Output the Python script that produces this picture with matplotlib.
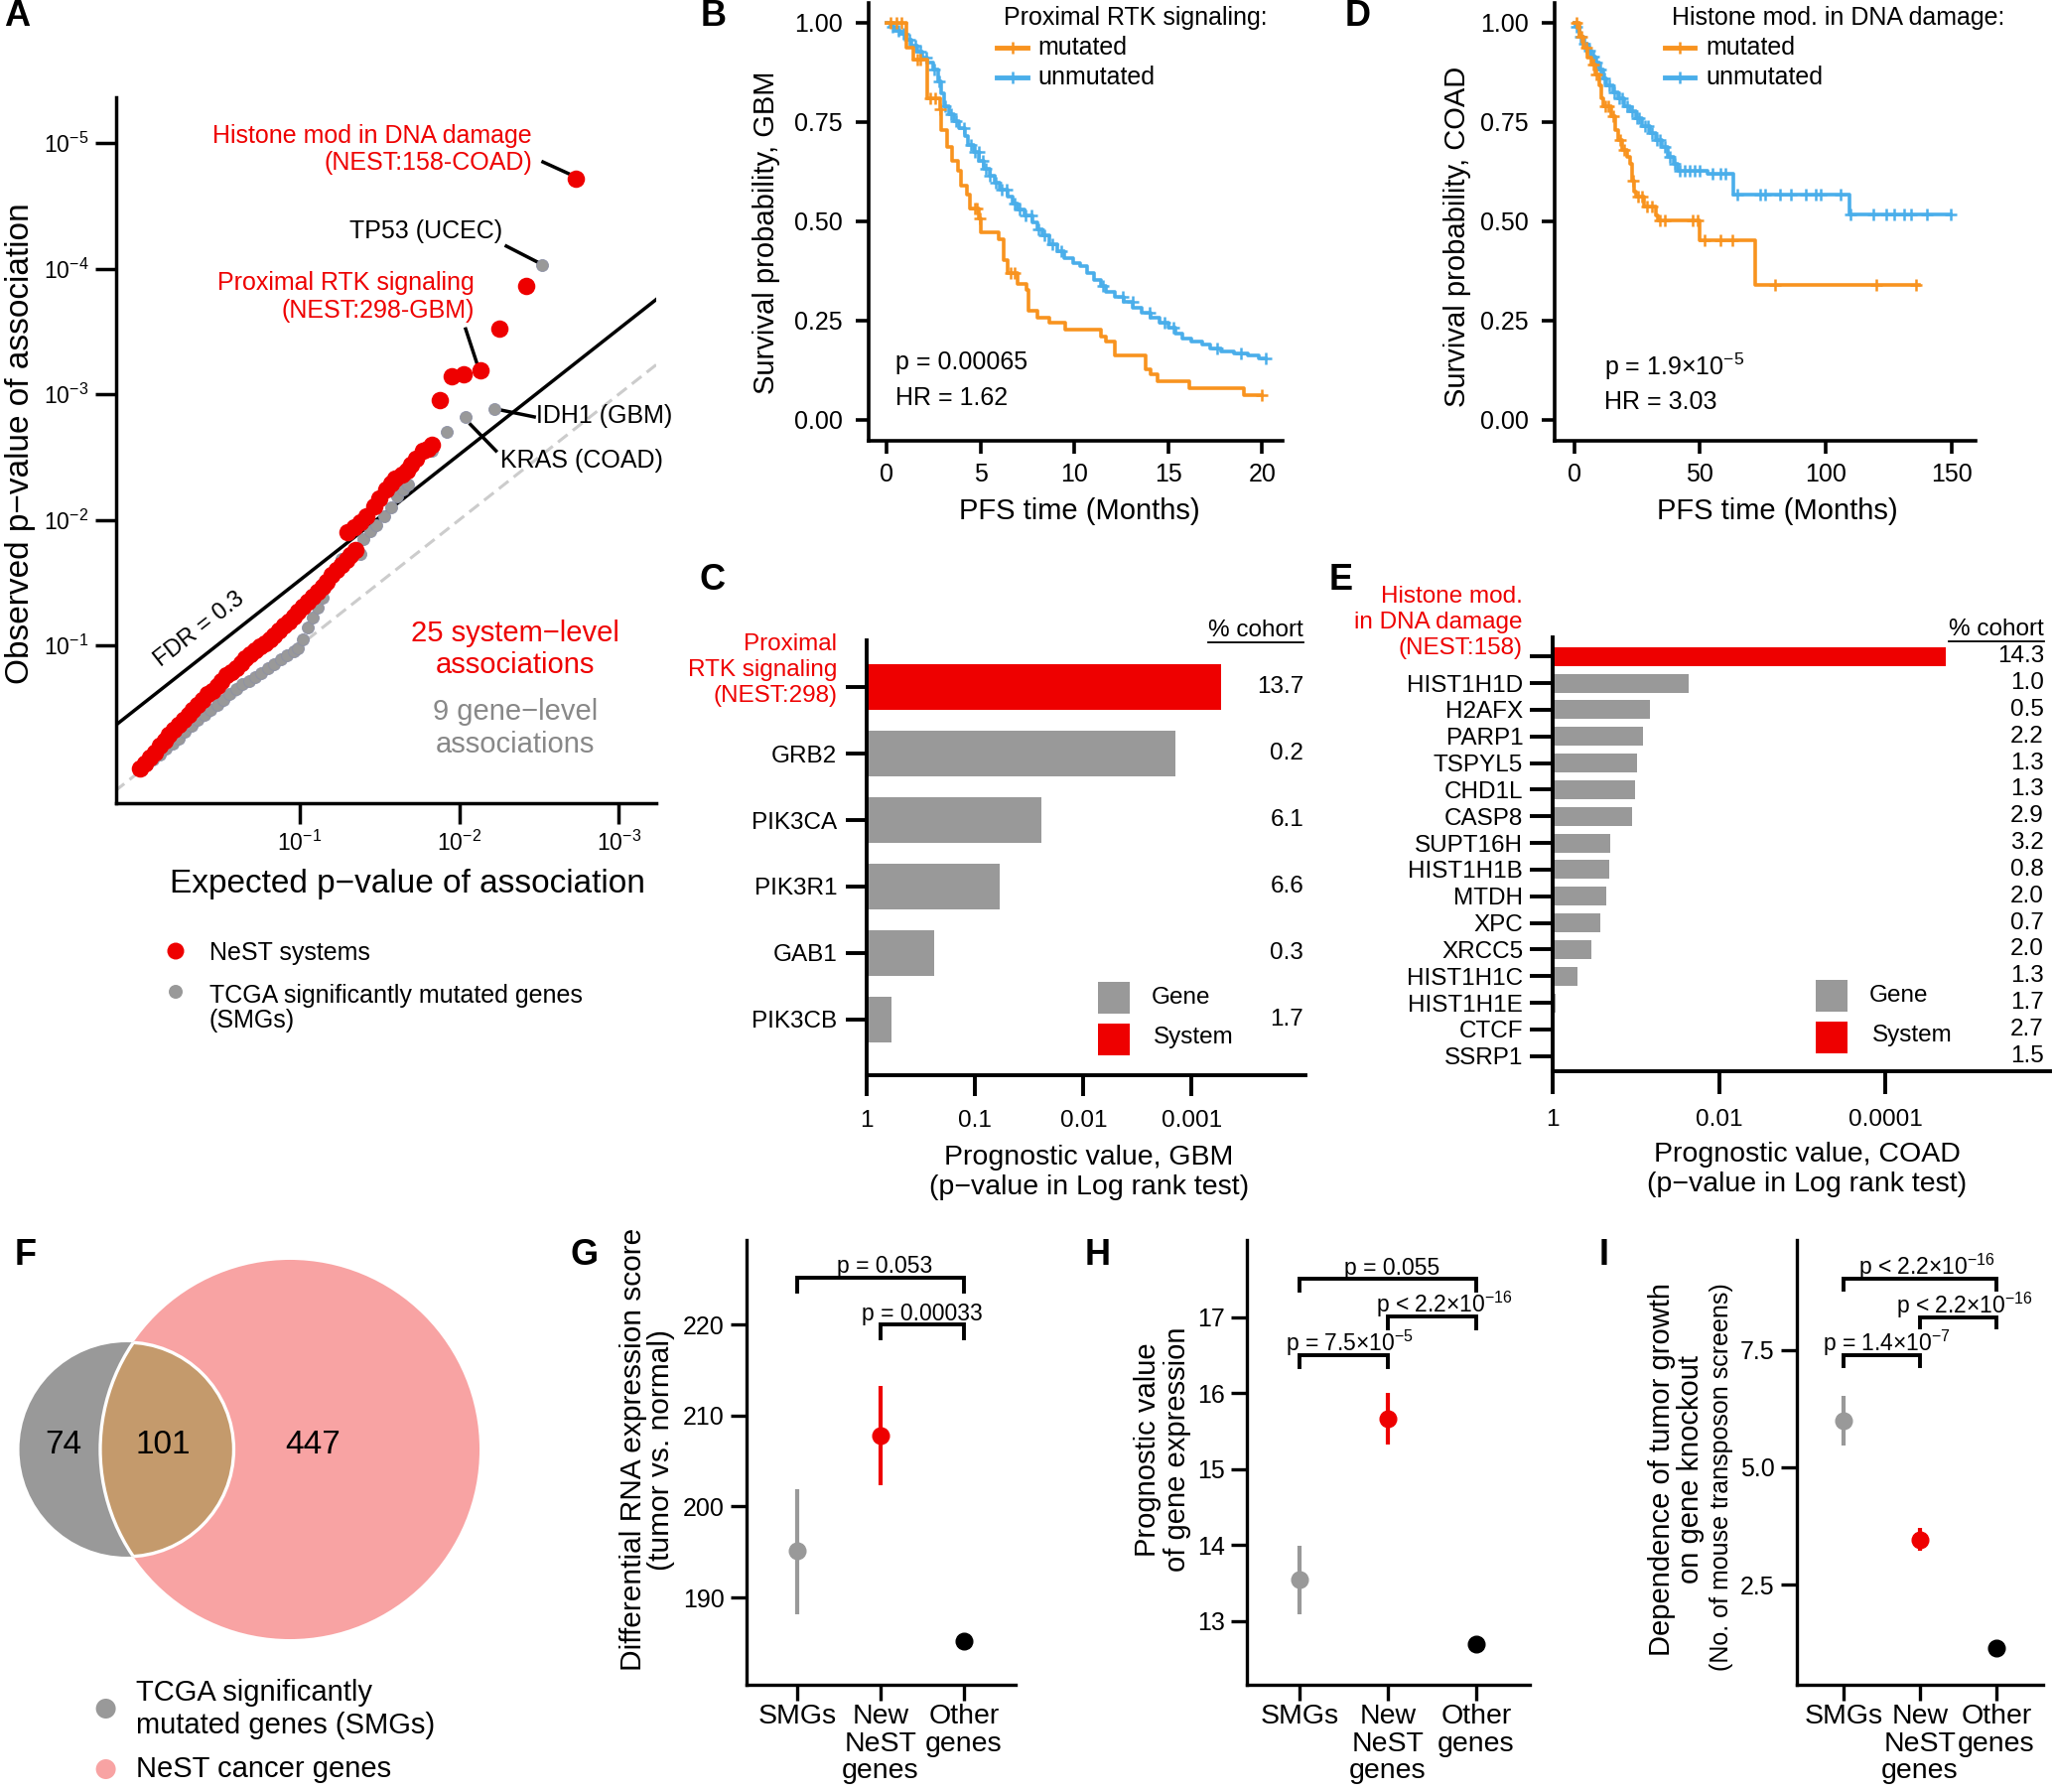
import numpy as np
import matplotlib
matplotlib.use('Agg')
import matplotlib.pyplot as plt
from matplotlib.patches import Circle, Rectangle
from matplotlib.ticker import NullLocator

plt.rcParams['font.family'] = ['Liberation Sans', 'DejaVu Sans']
plt.rcParams['mathtext.fontset'] = 'custom'
plt.rcParams['mathtext.rm'] = 'Liberation Sans'
plt.rcParams['mathtext.it'] = 'Liberation Sans:italic'
plt.rcParams['mathtext.bf'] = 'Liberation Sans:bold'

# ======================= DATA =======================
# Panel A: QQ plot (-log10 expected, -log10 observed)
qq_sys_exp = [0.00, 0.03, 0.06, 0.09, 0.12, 0.15, 0.18, 0.21, 0.24, 0.27, 0.30, 0.33, 0.36, 0.39,
              0.42, 0.45, 0.48, 0.51, 0.54, 0.57, 0.60, 0.63, 0.66, 0.69, 0.72, 0.75, 0.78, 0.81,
              0.84, 0.87, 0.90, 0.93, 0.96, 0.99, 1.02, 1.05, 1.08, 1.11, 1.14, 1.17, 1.20, 1.23,
              1.26, 1.29, 1.32, 1.35,
              1.30, 1.34, 1.38, 1.42, 1.465, 1.50, 1.54, 1.57, 1.60, 1.64, 1.67, 1.70, 1.73, 1.77,
              1.80, 1.83, 1.88, 1.95, 2.03, 2.13, 2.25, 2.42, 2.73]
qq_sys_obs = [0.02, 0.06, 0.11, 0.15, 0.20, 0.24, 0.29, 0.33, 0.37, 0.41, 0.45, 0.49, 0.53, 0.57,
              0.61, 0.64, 0.68, 0.72, 0.76, 0.79, 0.82, 0.86, 0.90, 0.93, 0.96, 0.99, 1.02, 1.05,
              1.08, 1.12, 1.16, 1.19, 1.23, 1.27, 1.31, 1.35, 1.39, 1.43, 1.47, 1.51, 1.56, 1.60,
              1.64, 1.68, 1.72, 1.76,
              1.90, 1.94, 1.98, 2.03, 2.11, 2.17, 2.24, 2.29, 2.33, 2.36, 2.39, 2.44, 2.49, 2.55,
              2.57, 2.60, 2.95, 3.14, 3.16, 3.19, 3.52, 3.86, 4.72]
qq_gene_exp = [0.00, 0.04, 0.08, 0.12, 0.16, 0.20, 0.24, 0.28, 0.32, 0.36, 0.40, 0.44, 0.48, 0.52,
               0.56, 0.60, 0.64, 0.68, 0.72, 0.76, 0.80, 0.84, 0.88, 0.92, 0.96, 0.99, 1.02, 1.05,
               1.08, 1.11, 1.14, 1.17, 1.20, 1.23, 1.26, 1.30, 1.38, 1.40, 1.44, 1.48, 1.53, 1.57,
               1.61, 1.65, 1.68, 1.83, 1.92, 2.04, 2.22, 2.52]
qq_gene_obs = [0.02, 0.05, 0.09, 0.13, 0.18, 0.22, 0.26, 0.31, 0.36, 0.41, 0.45, 0.49, 0.53, 0.57,
               0.61, 0.65, 0.69, 0.72, 0.75, 0.78, 0.82, 0.85, 0.89, 0.92, 0.95, 0.98, 1.05, 1.14,
               1.22, 1.30, 1.38, 1.48, 1.55, 1.62, 1.69, 1.71, 1.73, 1.85, 1.91, 1.96, 2.03, 2.10,
               2.19, 2.24, 2.28, 2.55, 2.70, 2.82, 2.88, 4.03]
fdr_offset = 0.52

# Panel B: Kaplan-Meier GBM
gbm_mut_t = [0, 1.04, 1.42, 2.17, 2.83, 2.92, 3.21, 3.49, 3.77, 3.96, 4.25, 4.43, 4.91, 5.0, 5.94,
             6.23, 6.42, 6.98, 7.45, 7.55, 8.02, 8.68, 9.53, 11.42, 11.7, 12.17, 13.77, 14.06,
             14.43, 16.13, 19.06]
gbm_mut_s = [1.0, 0.938, 0.908, 0.809, 0.783, 0.731, 0.688, 0.653, 0.628, 0.589, 0.567, 0.533,
             0.507, 0.472, 0.455, 0.403, 0.369, 0.343, 0.326, 0.274, 0.257, 0.244, 0.227, 0.209,
             0.197, 0.162, 0.128, 0.115, 0.097, 0.080, 0.063]
gbm_mut_end = 20.0
gbm_mut_cens = [0.2, 0.5, 0.8, 1.6, 1.8, 2.3, 2.6, 2.85, 4.7, 4.8, 4.95, 6.6, 6.8, 20.0]
gbm_unm_t = [0, 0.19, 0.47, 0.75, 1.04, 1.32, 1.6, 1.89, 2.17, 2.45, 2.74, 2.92, 3.06, 3.3, 3.58,
             3.87, 4.15, 4.34, 4.62, 4.91, 5.19, 5.47, 5.75, 6.04, 6.42, 6.70, 6.98, 7.36, 7.74,
             8.02, 8.3, 8.68, 9.06, 9.43, 9.91, 10.28, 10.66, 11.04, 11.42, 11.7, 12.17, 12.64,
             13.11, 13.58, 14.06, 14.53, 15.0, 15.38, 15.75, 16.23, 16.79, 17.26, 17.83, 18.49,
             19.25, 19.81]
gbm_unm_s = [1.0, 0.99, 0.979, 0.972, 0.957, 0.942, 0.928, 0.912, 0.899, 0.882, 0.852, 0.822,
             0.791, 0.770, 0.753, 0.735, 0.714, 0.692, 0.675, 0.653, 0.632, 0.615, 0.597, 0.580,
             0.563, 0.546, 0.531, 0.516, 0.498, 0.479, 0.464, 0.442, 0.425, 0.408, 0.395, 0.386,
             0.369, 0.352, 0.336, 0.322, 0.310, 0.296, 0.283, 0.270, 0.257, 0.244, 0.233, 0.218,
             0.205, 0.198, 0.190, 0.179, 0.172, 0.166, 0.162, 0.155]
gbm_unm_end = 20.2
gbm_unm_cens = [0.3, 0.6, 0.9, 1.2, 1.5, 1.8, 2.1, 2.5, 2.8, 3.1, 3.4, 3.7, 4.1, 4.5, 4.7, 4.9,
                5.1, 5.3, 5.5, 5.8, 6.1, 6.4, 6.8, 7.1, 7.4, 7.7, 8.1, 8.4, 8.8, 9.3, 11.5, 12.6,
                13.1, 14.0, 14.8, 15.3, 17.6, 18.9, 20.2]
gbm_p_text = 'p = 0.00065'
gbm_hr_text = 'HR = 1.62'

# Panel D: Kaplan-Meier COAD
coad_mut_t = [0, 2.0, 3.6, 5.2, 6.7, 8.3, 9.9, 10.7, 11.5, 14.6, 16.2, 17.7, 19.3, 20.9, 22.4,
              23.2, 24.0, 24.8, 27.9, 32.6, 33.4, 49.9, 71.9]
coad_mut_s = [1.0, 0.964, 0.938, 0.912, 0.895, 0.869, 0.843, 0.809, 0.791, 0.766, 0.731, 0.705,
              0.679, 0.662, 0.645, 0.602, 0.576, 0.563, 0.537, 0.516, 0.503, 0.451, 0.339]
coad_mut_end = 137
coad_mut_cens = [1, 3, 5, 7.5, 9, 12.5, 13.5, 15.5, 18.5, 20, 23.5, 25.5, 27, 29, 31, 34, 36, 47,
                 49, 52, 58, 63, 80, 120, 136]
coad_unm_t = [0, 0.5, 2.0, 3.6, 5.2, 6.7, 8.3, 9.9, 11.5, 13.0, 15.4, 17.7, 20.1, 22.4, 24.8,
              27.1, 30.3, 32.6, 35.0, 37.3, 39.7, 41.3, 53.0, 63.2, 109.5]
coad_unm_s = [1.0, 0.99, 0.964, 0.947, 0.929, 0.916, 0.899, 0.882, 0.86, 0.843, 0.826, 0.809,
              0.791, 0.778, 0.761, 0.74, 0.722, 0.705, 0.688, 0.662, 0.645, 0.628, 0.619, 0.567,
              0.517]
coad_unm_end = 149.5
coad_unm_cens = [1, 2.5, 4, 6, 7.5, 9, 10.5, 12, 14, 16, 18, 19, 21, 23, 25, 26, 28, 29.5, 31, 33,
                 34, 36, 38, 40, 42, 44, 46, 48, 50, 55, 58, 60, 65, 74, 76, 82, 86, 92, 96, 98,
                 106, 110, 119, 124, 127, 131, 134, 140, 149.5]
coad_p_text = 'p = 1.9×10$^{-5}$'
coad_hr_text = 'HR = 3.03'

# Panel C: prognostic value, GBM
c_labels = ['Proximal\nRTK signaling\n(NEST:298)', 'GRB2', 'PIK3CA', 'PIK3R1', 'GAB1', 'PIK3CB']
c_kind = ['System', 'Gene', 'Gene', 'Gene', 'Gene', 'Gene']
c_pvals = [5.4e-4, 1.4e-3, 0.0245, 0.059, 0.24, 0.59]
c_cohort = ['13.7', '0.2', '6.1', '6.6', '0.3', '1.7']

# Panel E: prognostic value, COAD
e_labels = ['Histone mod.\nin DNA damage\n(NEST:158)', 'HIST1H1D', 'H2AFX', 'PARP1', 'TSPYL5',
            'CHD1L', 'CASP8', 'SUPT16H', 'HIST1H1B', 'MTDH', 'XPC', 'XRCC5', 'HIST1H1C',
            'HIST1H1E', 'CTCF', 'SSRP1']
e_kind = ['System'] + ['Gene'] * 15
e_pvals = [1.9e-5, 0.023, 0.068, 0.082, 0.098, 0.102, 0.11, 0.204, 0.209, 0.229, 0.269, 0.339,
           0.50, 0.91, 1.0, 1.0]
e_cohort = ['14.3', '1.0', '0.5', '2.2', '1.3', '1.3', '2.9', '3.2', '0.8', '2.0', '0.7', '2.0',
            '1.3', '1.7', '2.7', '1.5']

# Panel F: Venn
venn_smg_only = 74
venn_both = 101
venn_nest_only = 447

# Panels G, H, I
gh_cats = ['SMGs', 'New\nNeST\ngenes', 'Other\ngenes']
g_mean = [195.1, 207.8, 185.2]
g_lo = [188.2, 202.3, 184.9]
g_hi = [201.9, 213.3, 185.5]
g_brackets = [(1, 3, 225.2, 223.6, 'p = 0.053'), (2, 3, 220.0, 218.5, 'p = 0.00033')]
h_mean = [13.54, 15.66, 12.70]
h_lo = [13.09, 15.32, 12.68]
h_hi = [13.99, 16.00, 12.72]
h_brackets = [(1, 3, 17.51, 17.35, 'p = 0.055'),
              (2, 3, 17.01, 16.85, 'p < 2.2×10$^{-16}$'),
              (1, 2, 16.50, 16.35, 'p = 7.5×10$^{-5}$')]
i_mean = [5.99, 3.46, 1.16]
i_lo = [5.47, 3.23, 1.14]
i_hi = [6.52, 3.70, 1.18]
i_brackets = [(1, 3, 9.02, 8.78, 'p < 2.2×10$^{-16}$'),
              (2, 3, 8.19, 7.97, 'p < 2.2×10$^{-16}$'),
              (1, 2, 7.38, 7.16, 'p = 1.4×10$^{-7}$')]

# ======================= STYLE =======================
RED = '#EE0000'
GREY = '#999999'
ORANGE = '#F8931F'
BLUE = '#4AAEEA'

W, H = 2068, 1805
fig = plt.figure(figsize=(W / 100, H / 100), dpi=100)


def add_ax(l, t, r, b):
    ax = fig.add_axes([l / W, 1 - b / H, (r - l) / W, (b - t) / H])
    ax.set_facecolor('none')
    for s in ['top', 'right']:
        ax.spines[s].set_visible(False)
    return ax


def style(ax, lw, tlen, labelsize, padx, pady):
    for s in ['left', 'bottom']:
        ax.spines[s].set_linewidth(lw)
    ax.tick_params(length=tlen, width=lw, labelsize=labelsize, color='black')
    ax.tick_params(axis='x', pad=padx)
    ax.tick_params(axis='y', pad=pady)


ov = fig.add_axes([0, 0, 1, 1], zorder=10)
ov.set_xlim(0, W)
ov.set_ylim(H, 0)
ov.axis('off')
ov.patch.set_alpha(0)


def T(x, y, s, size, **kw):
    kw.setdefault('ha', 'center')
    kw.setdefault('va', 'center')
    return ov.text(x, y, s, fontsize=size, **kw)


# panel letters
for lab, x, y in [('A', 17, 17), ('B', 719, 17), ('D', 1368, 17), ('C', 718, 585),
                  ('E', 1351, 585), ('F', 26, 1265), ('G', 589, 1265), ('H', 1106, 1265),
                  ('I', 1616, 1265)]:
    T(x, y, lab, 26, weight='bold')

# ======================= PANEL A =======================
P = lambda v: 10 ** (-np.asarray(v, dtype=float))
axA = add_ax(117, 98, 661, 809)
axA.set_xscale('log')
axA.set_yscale('log')
axA.set_xlim(10 ** 0.152, 10 ** -3.235)
axA.set_ylim(10 ** 0.256, 10 ** -5.365)
axA.axline((1, 1), (1e-3, 1e-3), color='#cccccc', lw=2.2, ls=(0, (4, 2.2)), zorder=1)
axA.axline((1, P(fdr_offset)), (1e-3, P(3 + fdr_offset)), color='black', lw=2.5, zorder=2)
axA.scatter(P(qq_gene_exp), P(qq_gene_obs), s=75, c=GREY, edgecolors='#8d91a6',
            linewidths=0.6, zorder=3, clip_on=False)
axA.scatter(P(qq_sys_exp), P(qq_sys_obs), s=160, c=RED, linewidths=0, zorder=4, clip_on=False)
axA.set_xticks([1e-1, 1e-2, 1e-3])
axA.set_xticklabels(['$10^{-1}$', '$10^{-2}$', '$10^{-3}$'])
axA.set_yticks([1e-1, 1e-2, 1e-3, 1e-4, 1e-5])
axA.set_yticklabels(['$10^{-1}$', '$10^{-2}$', '$10^{-3}$', '$10^{-4}$', '$10^{-5}$'])
axA.xaxis.set_minor_locator(NullLocator())
axA.yaxis.set_minor_locator(NullLocator())
style(axA, 2.5, 15, 16.5, 5, 5)

fsA = 18
axA.text(P(2.457), P(4.95), 'Histone mod in DNA damage\n(NEST:158-COAD)', color=RED,
         fontsize=fsA, ha='right', va='center', linespacing=1.2)
axA.plot(P([2.525, 2.715]), P([4.85, 4.74]), color='black', lw=2.5)
axA.text(P(1.79), P(4.30), 'TP53 (UCEC)', fontsize=fsA, ha='center', va='center')
axA.plot(P([2.295, 2.51]), P([4.18, 4.04]), color='black', lw=2.5)
axA.text(P(2.097), P(3.775), 'Proximal RTK signaling\n(NEST:298-GBM)', color=RED,
         fontsize=fsA, ha='right', va='center', linespacing=1.2)
axA.plot(P([2.04, 2.12]), P([3.52, 3.21]), color='black', lw=2.5)
axA.text(P(2.48), P(2.83), 'IDH1 (GBM)', fontsize=fsA, ha='left', va='center')
axA.plot(P([2.24, 2.47]), P([2.88, 2.82]), color='black', lw=2.5)
axA.text(P(2.26), P(2.47), 'KRAS (COAD)', fontsize=fsA, ha='left', va='center')
axA.plot(P([2.07, 2.23]), P([2.76, 2.55]), color='black', lw=2.5)
axA.text(P(0.37), P(1.13), 'FDR = 0.3', fontsize=17, rotation=38, ha='center', va='center',
         rotation_mode='anchor')
axA.text(P(2.35), P(0.97), '25 system\u2212level\nassociations', color=RED, fontsize=21,
         ha='center', va='center', linespacing=1.2)
axA.text(P(2.35), P(0.34), '9 gene\u2212level\nassociations', color='#888888', fontsize=21,
         ha='center', va='center', linespacing=1.2)
T(410, 890, 'Expected p\u2212value of association', 24)
T(21, 447, 'Observed p\u2212value of association', 24, rotation=90)
# legend A
ov.add_patch(Circle((177, 958), 8.5, fc=RED, ec='none'))
ov.add_patch(Circle((177, 999), 7, fc=GREY, ec='none'))
T(211, 960, 'NeST systems', 18, ha='left')
T(211, 1015.5, 'TCGA significantly mutated genes\n(SMGs)', 18, ha='left', linespacing=1.05)

# ======================= KM helper =======================
def km(ax, t, s, tend, cens, color):
    tt = list(t) + [tend]
    ss = list(s) + [s[-1]]
    ax.step(tt, ss, where='post', color=color, lw=2.6, clip_on=False)
    idx = np.searchsorted(np.asarray(t), np.asarray(cens), side='right') - 1
    ax.plot(cens, np.asarray(s)[idx], ls='none', marker='+', ms=9, mew=1.8, color=color,
            clip_on=False)


def km_axes(ax, xlim, xticks):
    ax.set_xlim(*xlim)
    ax.set_ylim(-0.053, 1.05)
    ax.set_xticks(xticks)
    ax.set_yticks([0, 0.25, 0.5, 0.75, 1.0])
    ax.set_yticklabels(['0.00', '0.25', '0.50', '0.75', '1.00'])
    style(ax, 2.6, 9.7, 18, 6, 9)


def km_legend(x_line0, x_line1, x_text, title, y0):
    T(x_line0 + 7, y0, title, 18, ha='left')
    for yy, col, lab in [(y0 + 30, ORANGE, 'mutated'), (y0 + 60, BLUE, 'unmutated')]:
        ov.plot([x_line0, x_line1], [yy, yy], color=col, lw=3.5)
        ov.plot([(x_line0 + x_line1) / 2], [yy], marker='+', ms=9, mew=1.8, color=col)
        T(x_text, yy, lab, 18, ha='left')


# ======================= PANEL B =======================
axB = add_ax(875, 3, 1292, 444)
km(axB, gbm_unm_t, gbm_unm_s, gbm_unm_end, gbm_unm_cens, BLUE)
km(axB, gbm_mut_t, gbm_mut_s, gbm_mut_end, gbm_mut_cens, ORANGE)
km_axes(axB, (-0.97, 21.1), [0, 5, 10, 15, 20])
km_legend(1004, 1035, 1045, 'Proximal RTK signaling:', 18)
T(902, 365, gbm_p_text, 18, ha='left')
T(902, 401, gbm_hr_text, 18, ha='left')
T(1087, 515, 'PFS time (Months)', 21)
T(772, 234, 'Survival probability, GBM', 21, rotation=90)

# ======================= PANEL D =======================
axD = add_ax(1566, 3, 1990, 444)
km(axD, coad_unm_t, coad_unm_s, coad_unm_end, coad_unm_cens, BLUE)
km(axD, coad_mut_t, coad_mut_s, coad_mut_end, coad_mut_cens, ORANGE)
km_axes(axD, (-7.7, 159.5), [0, 50, 100, 150])
km_legend(1677, 1707, 1718, 'Histone mod. in DNA damage:', 18)
T(1616, 369, coad_p_text, 18, ha='left')
T(1616, 405, coad_hr_text, 18, ha='left')
T(1790, 515, 'PFS time (Months)', 21)
T(1468, 238, 'Survival probability, COAD', 21, rotation=90)

# ======================= PANEL C =======================
def bar_panel(ax, labels, kinds, pvals, cohort, xmin_dec, ylim, height, xticks, xticklabels,
              tlen, pady, padx, fs):
    y = np.arange(len(labels))
    cols = [RED if k == 'System' else GREY for k in kinds]
    ax.set_xscale('log')
    ax.barh(y, np.asarray(pvals) - 1.0, left=1.0, height=height, color=cols, linewidth=0)
    ax.set_xlim(1, 10 ** -xmin_dec)
    ax.set_ylim(*ylim)
    ax.set_yticks(y)
    ax.set_yticklabels([''] + list(labels[1:]))
    ax.set_xticks(xticks)
    ax.set_xticklabels(xticklabels)
    ax.xaxis.set_minor_locator(NullLocator())
    style(ax, 2.8, tlen, fs, padx, pady)
    return y


axC = add_ax(873, 645, 1315, 1083)
yC = bar_panel(axC, c_labels, c_kind, c_pvals, c_cohort, 4.05, (5.84, -0.705), 0.68,
               [1, 0.1, 0.01, 0.001], ['1', '0.1', '0.01', '0.001'], 15, 6.5, 10, 17.5)
T(843, 675, c_labels[0], 17.5, ha='right', color=RED, linespacing=1.23)
T(1313, 635, '% cohort', 17.5, ha='right')
ov.plot([1217, 1313], [647, 647], color='black', lw=1.3)
for yy, txt in zip(yC, c_cohort):
    axC.text(0.996, yy, txt, transform=axC.get_yaxis_transform(), ha='right', va='center',
             fontsize=17.5)
ov.add_patch(Rectangle((1106, 989), 31.6, 32, fc=GREY, ec='none'))
ov.add_patch(Rectangle((1106, 1031), 31.6, 32, fc=RED, ec='none'))
T(1160, 1005, 'Gene', 17.5, ha='left')
T(1162, 1045, 'System', 17.5, ha='left')
T(1097, 1181, 'Prognostic value, GBM\n(p\u2212value in Log rank test)', 20.5, linespacing=1.19)

# ======================= PANEL E =======================
axE = add_ax(1564, 642, 2065, 1079)
yE = bar_panel(axE, e_labels, e_kind, e_pvals, e_cohort, 5.98, (15.57, -0.72), 0.71,
               [1, 0.01, 0.0001], ['1', '0.01', '0.0001'], 16.5, 5, 11, 17.5)
T(1534, 627, e_labels[0], 17.5, ha='right', color=RED, linespacing=1.23)
T(2059, 634, '% cohort', 17.5, ha='right')
ov.plot([1963, 2059], [646, 646], color='black', lw=1.3)
for yy, txt in zip(yE, e_cohort):
    axE.text(0.988, yy, txt, transform=axE.get_yaxis_transform(), ha='right', va='center',
             fontsize=17.5)
ov.add_patch(Rectangle((1829, 987), 31.6, 32, fc=GREY, ec='none'))
ov.add_patch(Rectangle((1829, 1029), 31.6, 32, fc=RED, ec='none'))
T(1883, 1003, 'Gene', 17.5, ha='left')
T(1886, 1043, 'System', 17.5, ha='left')
T(1820, 1178, 'Prognostic value, COAD\n(p\u2212value in Log rank test)', 20.5, linespacing=1.19)

# ======================= PANEL F (Venn) =======================
k_area = 8.16
r_smg = k_area * np.sqrt(venn_smg_only + venn_both)
r_nest = k_area * np.sqrt(venn_nest_only + venn_both)
c_smg = (127.5, 1460)
c_nest = (292, 1460)
pink = Circle(c_nest, r_nest, fc='#F8A3A3', ec='none', zorder=1)
grey = Circle(c_smg, r_smg, fc=GREY, ec='none', zorder=1.5)
ov.add_patch(pink)
ov.add_patch(grey)
tan = Circle(c_smg, r_smg, fc='#C49A6C', ec='none', zorder=2)
ov.add_patch(tan)
tan.set_clip_path(pink)
w1 = Circle(c_smg, r_smg, fc='none', ec='white', lw=2.4, zorder=3)
ov.add_patch(w1)
w1.set_clip_path(pink)
w2 = Circle(c_nest, r_nest, fc='none', ec='white', lw=2.4, zorder=3)
ov.add_patch(w2)
w2.set_clip_path(grey)
T(64, 1456, str(venn_smg_only), 24)
T(164, 1456, str(venn_both), 24)
T(315, 1456, str(venn_nest_only), 24)
ov.add_patch(Circle((106.6, 1721), 10, fc=GREY, ec='none'))
ov.add_patch(Circle((106.6, 1782), 10, fc='#F8A3A3', ec='none'))
T(137, 1721.5, 'TCGA significantly\nmutated genes (SMGs)', 21, ha='left', linespacing=1.27)
T(137, 1782, 'NeST cancer genes', 21, ha='left')

# ======================= PANELS G, H, I =======================
pt_cols = [GREY, RED, 'black']


def point_panel(ax, mean, lo, hi, brackets, xlim, ylim, yticks, yticklabels, dxs):
    x = np.arange(1, len(mean) + 1)
    for xi, m, l, h, c in zip(x, mean, lo, hi, pt_cols):
        ax.errorbar([xi], [m], yerr=[[m - l], [h - m]], fmt='o', color=c, ms=12,
                    elinewidth=3, capsize=0, zorder=3)
    for (a, b, top, leg, txt), dx in zip(brackets, dxs):
        ax.plot([a, a, b, b], [leg, top, top, leg], color='black', lw=2.8,
                solid_joinstyle='miter', clip_on=False)
        ax.annotate(txt, xy=((a + b) / 2, top), xytext=(dx, 3), textcoords='offset points',
                    ha='center', va='baseline', fontsize=16.5, annotation_clip=False)
    ax.set_xlim(*xlim)
    ax.set_ylim(*ylim)
    ax.set_xticks(x)
    ax.set_xticklabels(gh_cats, va='top')
    for lbl in ax.get_xticklabels():
        lbl.set_linespacing(1.07)
    ax.set_yticks(yticks)
    ax.set_yticklabels(yticklabels)
    style(ax, 2.4, 11.5, 18, 2.5, 4.7)
    ax.tick_params(axis='x', labelsize=20.5)


axG = add_ax(752, 1249, 1023, 1697)
point_panel(axG, g_mean, g_lo, g_hi, g_brackets, (0.393, 3.62), (180.4, 229.3),
            [190, 200, 210, 220], ['190', '200', '210', '220'], [3, 0])
T(652, 1460, 'Differential RNA expression score\n(tumor vs. normal)', 21.5, rotation=90,
  linespacing=1.02)

axH = add_ax(1256, 1249, 1541, 1697)
point_panel(axH, h_mean, h_lo, h_hi, h_brackets, (0.40, 3.61), (12.16, 18.02),
            [13, 14, 15, 16, 17], ['13', '14', '15', '16', '17'], [3, 9, 4])
T(1171, 1460, 'Prognostic value\nof gene expression', 21, rotation=90, linespacing=1.05)

axI = add_ax(1810, 1249, 2058, 1697)
point_panel(axI, i_mean, i_lo, i_hi, i_brackets, (0.39, 3.61), (0.37, 9.84),
            [2.5, 5.0, 7.5], ['2.5', '5.0', '7.5'], [5, 5, 4])
T(1688.5, 1480, 'Dependence of tumor growth\non gene knockout', 21, rotation=90,
  linespacing=1.05)
T(1734, 1488, '(No. of mouse transposon screens)', 18, rotation=90)

fig.savefig('out.png', dpi=100)
